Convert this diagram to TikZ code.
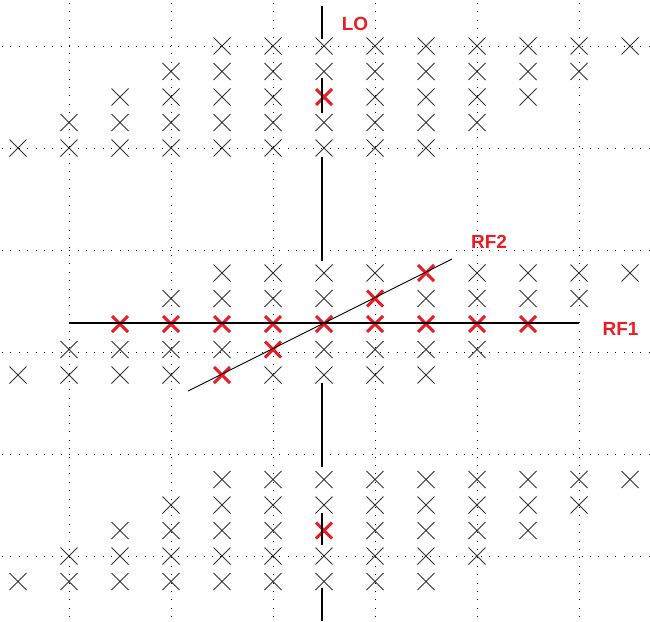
\documentclass[tikz,border=0pt]{standalone}
\usepackage{fontspec}
\setmainfont{Liberation Sans}
\usetikzlibrary{shapes.misc}
\definecolor{mkred}{RGB}{236,28,36}
\definecolor{mkgray}{RGB}{50,50,50}
\tikzset{
  gridline/.style={black,line width=1pt,dash pattern=on 1pt off 7.4pt},
  blackmark/.style={cross out,draw=mkgray,line width=0.9pt,minimum size=17pt,inner sep=0pt,outer sep=0pt},
  redmark/.style={cross out,draw=mkred,line width=3pt,minimum size=16pt,inner sep=0pt,outer sep=0pt},
  lobar/.style={black,line width=2pt},
  rfone/.style={black,line width=2pt},
  rftwo/.style={black,line width=0.9pt},
  lab/.style={text=mkred,font=\bfseries\fontsize{19}{19}\selectfont,inner sep=0pt}
}
\begin{document}
\begin{tikzpicture}[x=1pt,y=-1pt]
\useasboundingbox (0,0) rectangle (650,621);
% dotted grid
\foreach \j in {0,...,5}{
  \draw[gridline] ({69+102*\j},3) -- ({69+102*\j},621);
  \draw[gridline] (2,{46+102*\j}) -- (650,{46+102*\j});
}
% marks
\foreach \g/\y in {1/46,2/273,3/479.5}{
  \foreach \r in {0,...,4}{
    \pgfmathtruncatemacro\kmin{4-\r}
    \pgfmathtruncatemacro\kmax{12-\r}
    \foreach \k in {\kmin,...,\kmax}{
      \pgfmathtruncatemacro\isred{((\g==2)&&((\r==2)||(\k==8-\r)))||((\g!=2)&&(\r==2)&&(\k==6))}
      \ifnum\isred=1 \def\st{redmark}\else\def\st{blackmark}\fi
      \node[\st] (m-\g-\r-\k) at ({18+51*\k},{\y+25.5*\r}) {};
    }
  }
}
% LO line segments
\coordinate (lo1) at (322,6);   \coordinate (lo2) at (322,39);
\coordinate (lo3) at (322,78);  \coordinate (lo4) at (322,113);
\coordinate (lo5) at (322,157); \coordinate (lo6) at (322,261);
\coordinate (lo7) at (322,383); \coordinate (lo8) at (322,467);
\coordinate (lo9) at (322,513); \coordinate (lo10) at (322,545);
\coordinate (lo11) at (322,588);\coordinate (lo12) at (322,621);
\draw[lobar] (lo1) -- (lo2);
\draw[lobar] (lo3) -- (lo4);
\draw[lobar] (lo5) -- (lo6);
\draw[lobar] (lo7) -- (lo8);
\draw[lobar] (lo9) -- (lo10);
\draw[lobar] (lo11) -- (lo12);
% RF1 line
\coordinate (rf1a) at (69,323);
\coordinate (rf1b) at (579,323);
\draw[rfone] (rf1a) -- (rf1b);
% RF2 line
\coordinate (rf2a) at (188,391);
\coordinate (rf2b) at (452,259);
\draw[rftwo] (rf2a) -- (rf2b);
% labels
\node[lab] (lo) at (355,24) {LO};
\node[lab] (rf2) at (489,242) {RF2};
\node[lab] (rf1) at (620.5,329) {RF1};
\end{tikzpicture}
\end{document}
